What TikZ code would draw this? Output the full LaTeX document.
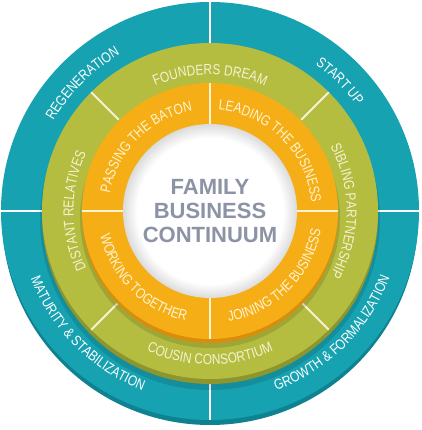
\documentclass[tikz,border=0pt]{standalone}
\usepackage{fontspec}
\setmainfont{Liberation Sans}
\setsansfont{Liberation Sans}
\newfontfamily\narrowsans[FakeStretch=0.82]{Liberation Sans}
\usepackage{tikz}
\usetikzlibrary{decorations.text}

\definecolor{ringteal}{HTML}{17A2B2}
\definecolor{tealrim}{HTML}{0E8290}
\definecolor{ringgreen}{HTML}{B4BD40}
\definecolor{greenrim}{HTML}{8C952E}
\definecolor{ringorange}{HTML}{F6AE16}
\definecolor{orangerim}{HTML}{D88E0C}
\definecolor{greentext}{HTML}{F4F2D4}
\definecolor{orangetext}{HTML}{FFF4D2}
\definecolor{titlegray}{HTML}{8C93A5}

\pgfdeclareradialshading{hub}{\pgfpoint{0bp}{0bp}}{color(0bp)=(white); color(21bp)=(white); color(25bp)=(black!14); color(50bp)=(black!14)}

\newcommand{\labelfont}{\narrowsans\fontsize{14.5}{16}\selectfont}

\begin{document}
\begin{tikzpicture}[
        x=1pt, y=1pt,
        divider/.style={line width=1.8pt, white},
        greendivider/.style={line width=1.8pt, greentext},
        arclabel/.style={decorate, decoration={text along path, text align=center, text={|\labelfont|#1}}},
        title/.style={align=center, text=titlegray, font=\fontsize{22}{24}\selectfont\bfseries}
    ]
        \useasboundingbox (-210,-219) rectangle (211,211);
        % Outer ring (stages)
        \fill[tealrim] (0,-6) circle[radius=208];
        \fill[ringteal] (0,0) circle[radius=209];
        \foreach \a in {0,90,180,270}
            \draw[divider] (\a:168) -- (\a:208.5);
        % Middle ring (ownership)
        \fill[black, opacity=0.12] (0,-9) circle[radius=170];
        \fill[greenrim] (0,-5) circle[radius=168];
        \fill[ringgreen] (0,0) circle[radius=168];
        \foreach \a in {45,135,225,315}
            \draw[greendivider] (\a:129) -- (\a:168);
        % Inner ring (generations)
        \fill[black, opacity=0.12] (0,-7) circle[radius=130];
        \fill[orangerim] (0,-4) circle[radius=128];
        \fill[ringorange] (0,0) circle[radius=128];
        \foreach \a in {0,90,180,270}
            \draw[divider, orangetext] (\a:87) -- (\a:128);
        % Hub
        \shade[shading=hub] (0,0) circle[radius=87];
        \node[title] (title) at (0,0) {FAMILY\\BUSINESS\\CONTINUUM};

        % Outer labels
        \path[arclabel={REGENERATION}, decoration={text color=white}]
            (180:180.5) arc[start angle=180, end angle=90, radius=180.5];
        \path[arclabel={START UP}, decoration={text color=white}]
            (90:180.5) arc[start angle=90, end angle=0, radius=180.5];
        \path[arclabel={MATURITY {\&} STABILIZATION}, decoration={text color=white}]
            (180:191.5) arc[start angle=180, end angle=270, radius=191.5];
        \path[arclabel={GROWTH {\&} FORMALIZATION}, decoration={text color=white}]
            (270:191.5) arc[start angle=270, end angle=360, radius=191.5];
        % Middle labels
        \path[arclabel={FOUNDERS DREAM}, decoration={text color=greentext}]
            (135:136.5) arc[start angle=135, end angle=45, radius=136.5];
        \path[arclabel={SIBLING PARTNERSHIP}, decoration={text color=greentext}]
            (45:136.5) arc[start angle=45, end angle=-45, radius=136.5];
        \path[arclabel={COUSIN CONSORTIUM}, decoration={text color=greentext}]
            (225:153.5) arc[start angle=225, end angle=315, radius=153.5];
        \path[arclabel={DISTANT RELATIVES}, decoration={text color=greentext}]
            (225:136.5) arc[start angle=225, end angle=135, radius=136.5];
        % Inner labels
        \path[arclabel={PASSING THE BATON}, decoration={text color=orangetext}]
            (180:101.5) arc[start angle=180, end angle=90, radius=101.5];
        \path[arclabel={LEADING THE BUSINESS}, decoration={text color=orangetext}]
            (90:101.5) arc[start angle=90, end angle=0, radius=101.5];
        \path[arclabel={WORKING TOGETHER}, decoration={text color=orangetext}]
            (180:112.5) arc[start angle=180, end angle=270, radius=112.5];
        \path[arclabel={JOINING THE BUSINESS}, decoration={text color=orangetext}]
            (270:112.5) arc[start angle=270, end angle=360, radius=112.5];
    \end{tikzpicture}
\end{document}
